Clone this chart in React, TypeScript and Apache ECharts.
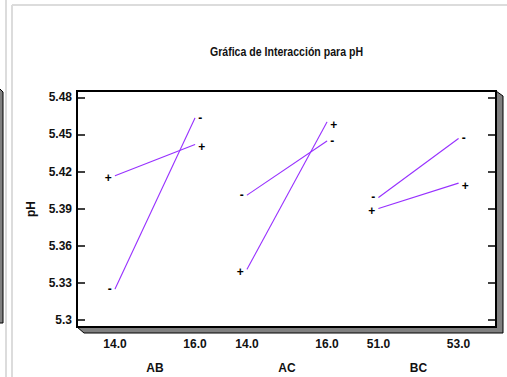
import React, { useEffect, useRef } from "react";
import * as echarts from "echarts";

const TITLE = "Gráfica de Interacción para pH";
const Y_NAME = "pH";
const FACTORS = ["AB", "AC", "BC"];
const LEVELS = [
  [14, 16],
  [14, 16],
  [51, 53],
];
const LEVEL_LABELS = [
  ["14.0", "16.0"],
  ["14.0", "16.0"],
  ["51.0", "53.0"],
];
const MINUS_VALUES = [
  [5.325, 5.4633],
  [5.4009, 5.4447],
  [5.399, 5.4467],
];
const PLUS_VALUES = [
  [5.4165, 5.4418],
  [5.3409, 5.46],
  [5.3901, 5.4106],
];
const Y_TICKS = [5.3, 5.33, 5.36, 5.39, 5.42, 5.45, 5.48];

const FONT = "'Liberation Sans Narrow', 'Arial Narrow', 'Liberation Sans', Arial, sans-serif";
const LINE_COLOR = "#9730ff";

// layout
const GL = 77, GT = 91, GW = 419, GH = 236;
const PX_PER_UNIT = 40;
const FIRST_LEVEL_PX = [115, 247, 378.5];

export default function App() {
  const ref = useRef<HTMLDivElement>(null);
  useEffect(() => {
    document.body.style.margin = "0";
    const chart = echarts.init(ref.current!, null, { renderer: "svg" });

    const xAxes = FACTORS.map((f, i) => {
      const min = LEVELS[i][0] - (FIRST_LEVEL_PX[i] - GL) / PX_PER_UNIT;
      const max = min + GW / PX_PER_UNIT;
      return {
        type: "value",
        gridIndex: 0,
        position: "bottom",
        min,
        max,
        axisLine: { show: false },
        axisTick: { show: false },
        splitLine: { show: false },
        axisLabel: {
          customValues: LEVELS[i],
          formatter: (v: number) => {
            const k = LEVELS[i].indexOf(v);
            return k >= 0 ? LEVEL_LABELS[i][k] : "";
          },
          margin: 11,
          fontFamily: FONT,
          fontWeight: "bold",
          fontSize: 12,
          color: "#111",
        },
      };
    });

    const series: any[] = [];
    FACTORS.forEach((f, i) => {
      [
        { sign: "-", vals: MINUS_VALUES[i], dy: 0 },
        { sign: "+", vals: PLUS_VALUES[i], dy: 2.5 },
      ].forEach((s) => {
        series.push({
          type: "line",
          name: f + s.sign,
          xAxisIndex: i,
          yAxisIndex: 0,
          symbol: "circle",
          symbolSize: 0.5,
          itemStyle: { color: LINE_COLOR },
          lineStyle: { color: LINE_COLOR, width: 1.1 },
          label: {
            show: true,
            formatter: () => s.sign,
            fontFamily: FONT,
            fontWeight: "bold",
            fontSize: 12,
            lineHeight: 10,
            color: "#000",
            distance: 3,
            offset: [0, s.dy],
          },
          data: s.vals.map((v, k) => ({
            value: [LEVELS[i][k], v],
            label: { position: k === 0 ? "left" : "right" },
          })),
        });
      });
    });

    const yCommon = {
      type: "value",
      min: 5.2943,
      max: 5.4851,
      axisLine: { show: false },
      splitLine: { show: false },
      axisTick: {
        show: true,
        inside: true,
        length: 8,
        customValues: Y_TICKS,
        lineStyle: { color: "#000", width: 1.5 },
      },
    };

    const R = GL + GW, B = GT + GH;
    const decorations: any[] = [
      { type: "line", id: "g1", shape: { x1: 6, y1: 0, x2: 6, y2: 377 }, style: { stroke: "#dcdcdc", lineWidth: 2 } },
      { type: "line", id: "g2", shape: { x1: 12, y1: 5, x2: 12, y2: 377 }, style: { stroke: "#dcdcdc", lineWidth: 2 } },
      { type: "line", id: "g3", shape: { x1: 12, y1: 5, x2: 507, y2: 5 }, style: { stroke: "#dcdcdc", lineWidth: 2 } },
      {
        type: "polygon", id: "leftpanel",
        shape: { points: [[-3, 89], [0, 89], [3, 92], [3, 323], [-3, 323]] },
        style: { fill: "#808080", stroke: "#000", lineWidth: 1 },
      },
      {
        type: "polygon", id: "shadow",
        shape: { points: [[GL, B], [GL + 7, B + 6], [R + 7, B + 6], [R + 7, GT + 5], [R, GT], [R, B]] },
        style: { fill: "#808080", stroke: "#000", lineWidth: 1 },
      },
      {
        type: "rect", id: "frame",
        shape: { x: GL, y: GT, width: GW, height: GH },
        style: { fill: "none", stroke: "#000", lineWidth: 2 },
      },
      {
        type: "text", id: "title",
        x: GL + GW / 2,
        y: 52,
        scaleX: 0.88,
        style: {
          text: TITLE,
          fontFamily: FONT,
          fontWeight: "bold",
          fontSize: 12,
          fill: "#111",
          align: "center",
          verticalAlign: "middle",
        },
      },
    ];

    chart.setOption({
      animation: false,
      backgroundColor: "#fff",
      grid: { left: GL, top: GT, width: GW, height: GH, show: false },
      xAxis: xAxes,
      yAxis: [
        {
          ...yCommon,
          position: "left",
          name: Y_NAME,
          nameLocation: "middle",
          nameGap: 40,
          nameRotate: 90,
          nameTextStyle: { fontFamily: FONT, fontWeight: "bold", fontSize: 12, color: "#111" },
          axisLabel: {
            customValues: Y_TICKS,
            margin: 5,
            fontFamily: FONT,
            fontWeight: "bold",
            fontSize: 12,
            color: "#111",
          },
        },
        { ...yCommon, position: "right", axisLabel: { show: false } },
      ],
      graphic: decorations,
      series,
    });

    const names = FACTORS.map((f, i) => {
      const mid = (LEVELS[i][0] + LEVELS[i][1]) / 2;
      const px = chart.convertToPixel({ xAxisIndex: i } as any, mid) as number;
      return {
        type: "text",
        id: "name" + i,
        x: px,
        y: 368,
        style: {
          text: f,
          fontFamily: FONT,
          fontWeight: "bold",
          fontSize: 12,
          fill: "#111",
          align: "center",
          verticalAlign: "middle",
        },
      };
    });
    chart.setOption({ graphic: [...decorations, ...names] });

    return () => chart.dispose();
  }, []);
  return (
    <div
      ref={ref}
      style={{ position: "fixed", left: 0, top: 0, width: 507, height: 377, background: "#fff" }}
    />
  );
}
